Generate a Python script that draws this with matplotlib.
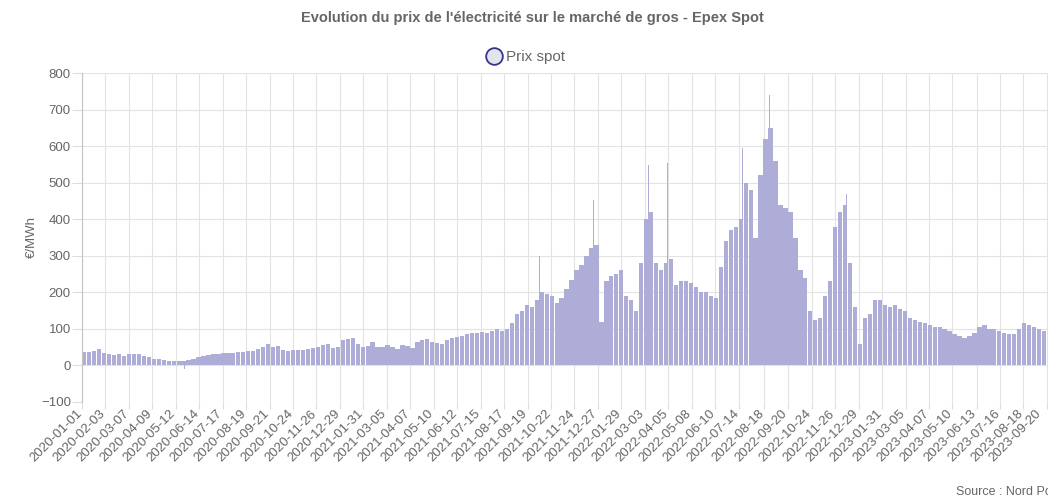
import matplotlib
matplotlib.use('Agg')
import matplotlib.pyplot as plt
import matplotlib.transforms as mtransforms
from matplotlib.lines import Line2D
import pandas as pd

plt.rcParams['font.family'] = ['Liberation Sans', 'DejaVu Sans']

# prix spot par semaine (€/MWh), première semaine le 2020-01-01
debut = '2020-01-01'
prix_hebdo = [
    38, 37, 40, 45, 33, 30, 28, 30, 27, 30,
    30, 32, 27, 24, 18, 17, 14, 11, 12, 12,
    12, 14, 18, 23, 26, 28, 30, 32, 33, 34,
    35, 37, 38, 40, 40, 45, 50, 58, 50, 52,
    42, 40, 42, 43, 43, 45, 48, 50, 55, 58,
    48, 50, 70, 72, 75, 58, 50, 52, 65, 50,
    50, 55, 50, 45, 55, 52, 48, 65, 70, 72,
    65, 62, 58, 70, 75, 78, 80, 85, 88, 90,
    92, 90, 95, 100, 95, 100, 115, 140, 150, 165,
    160, 180, 200, 195, 190, 170, 185, 210, 235, 260,
    275, 300, 320, 330, 120, 230, 245, 250, 260, 190,
    180, 150, 280, 400, 420, 280, 260, 280, 290, 220,
    230, 230, 225, 215, 200, 200, 190, 185, 270, 340,
    370, 380, 400, 500, 480, 350, 520, 620, 650, 560,
    440, 430, 420, 350, 260, 240, 150, 125, 130, 190,
    230, 380, 420, 440, 280, 160, 60, 130, 140, 180,
    180, 165, 160, 165, 155, 150, 130, 125, 120, 115,
    110, 105, 105, 100, 95, 85, 80, 75, 80, 90,
    105, 110, 100, 100, 95, 90, 85, 85, 100, 115,
    110, 105, 100, 95,
]

# pics journaliers visibles
pic_dates = ['2020-05-24', '2021-10-06', '2021-12-21', '2022-03-08',
             '2022-04-04', '2022-07-19', '2022-08-26', '2022-12-12']
pic_valeurs = [-10, 300, 452, 549, 553, 594, 741, 470]

tick_labels = [
    '2020-01-01', '2020-02-03', '2020-03-07', '2020-04-09', '2020-05-12', '2020-06-14',
    '2020-07-17', '2020-08-19', '2020-09-21', '2020-10-24', '2020-11-26', '2020-12-29',
    '2021-01-31', '2021-03-05', '2021-04-07', '2021-05-10', '2021-06-12', '2021-07-15',
    '2021-08-17', '2021-09-19', '2021-10-22', '2021-11-24', '2021-12-27', '2022-01-29',
    '2022-03-03', '2022-04-05', '2022-05-08', '2022-06-10', '2022-07-14', '2022-08-18',
    '2022-09-20', '2022-10-24', '2022-11-26', '2022-12-29', '2023-01-31', '2023-03-05',
    '2023-04-07', '2023-05-10', '2023-06-13', '2023-07-16', '2023-08-18', '2023-09-20',
]

semaines = pd.date_range(debut, periods=len(prix_hebdo), freq='7D')
jours_pics = pd.to_datetime(pic_dates)
ticks = pd.to_datetime(tick_labels)

gris = '#666666'
violet = '#adadd8'

fig = plt.figure(figsize=(10.48, 5.01), dpi=100)
ax = fig.add_axes([82 / 1048, 99 / 501, 966 / 1048, 329 / 501])

ax.bar(semaines, prix_hebdo, width=6, align='edge', color=violet, linewidth=0, zorder=2)
ax.bar(jours_pics, pic_valeurs, width=1.2, color=violet, linewidth=0, zorder=2)

ax.set_ylim(-100, 800)
ax.set_yticks(range(-100, 801, 100))
ax.set_xlim(ticks[0], ticks[-1] + pd.Timedelta(days=1.5))
ax.set_xticks(ticks)
ax.set_xticklabels([])

# étiquettes de dates inclinées, la dernière un peu rentrée pour rester visible
for i, (t, lab) in enumerate(zip(ticks, tick_labels)):
    dx = -8 if i == len(ticks) - 1 else -2
    decalage = mtransforms.ScaledTranslation(dx / 100, -10 / 100, fig.dpi_scale_trans)
    ax.text(t, 0, lab, transform=ax.get_xaxis_transform() + decalage,
            rotation=45, ha='right', va='center', rotation_mode='anchor',
            fontsize=9.5, color=gris, clip_on=False)

ax.tick_params(axis='y', labelsize=9.5, labelcolor=gris, length=7, color='#dddddd', pad=1)
ax.tick_params(axis='x', length=5, color='#dddddd')
ax.grid(True, color='#e3e3e3', linewidth=0.8)
ax.set_axisbelow(True)
for s in ['top', 'right', 'bottom']:
    ax.spines[s].set_visible(False)
ax.spines['left'].set_color('#c4c4c4')

ax.set_ylabel('€/MWh', fontsize=9.5, color=gris)
ax.yaxis.set_label_coords(-(82 - 38) / 966, 0.5)

fig.text(532 / 1048, 1 - 18 / 501, "Evolution du prix de l'électricité sur le marché de gros - Epex Spot",
         ha='center', va='center', fontsize=10.5, fontweight='bold', color=gris)

poignee = Line2D([], [], linestyle='none', marker='o', markersize=12,
                 markerfacecolor='#e4e4ee', markeredgecolor='#35358a', markeredgewidth=1.3)
fig.legend([poignee], ['Prix spot'], loc='center', bbox_to_anchor=(525 / 1048, 1 - 57 / 501),
           frameon=False, fontsize=11, labelcolor=gris, handletextpad=0.2, handlelength=1.2)

fig.text(956 / 1048, 1 - 492 / 501, 'Source : Nord Pool', ha='left', va='center',
         fontsize=9, color=gris)

fig.savefig('out.png', dpi=100)
